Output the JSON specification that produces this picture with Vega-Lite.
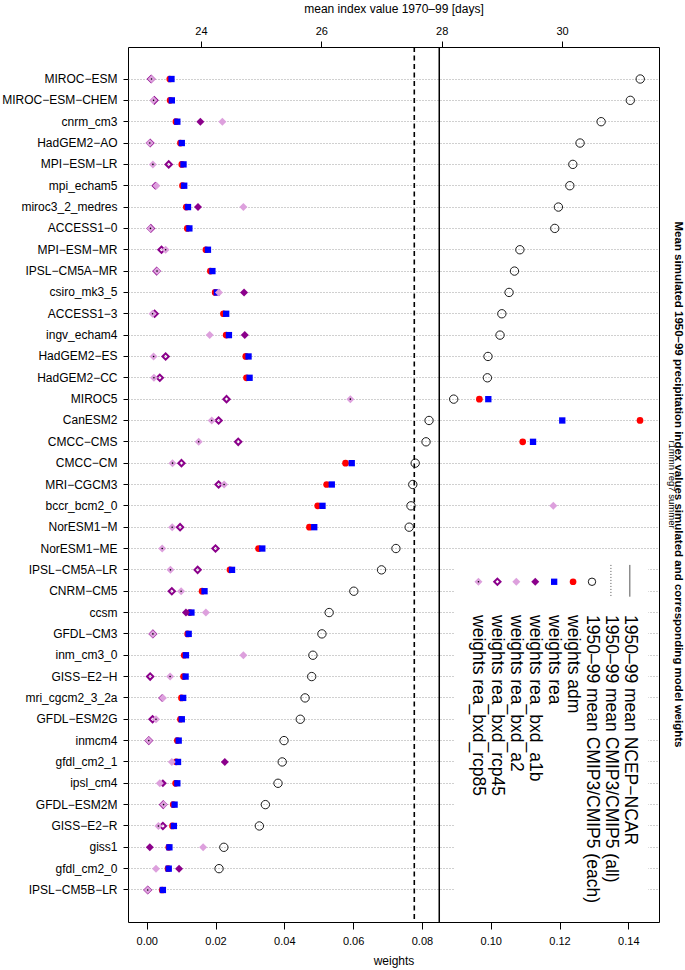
{
  "$schema": "https://vega.github.io/schema/vega-lite/v6.json",
  "width": 531,
  "height": 875,
  "autosize": {"type": "none"},
  "padding": {"left": 128, "top": 47, "right": 26, "bottom": 48},
  "background": "white",
  "config": {
    "view": {"stroke": "#000", "strokeWidth": 1},
    "font": "Liberation Sans",
    "axis": {"labelFont": "Liberation Sans", "titleFont": "Liberation Sans", "labelColor": "#000", "titleColor": "#000", "tickColor": "#000", "titleFontWeight": "normal"}
  },
  "title": {
    "text": "Mean simulated 1950–99 precipitation index values simulated and corresponding model weights",
    "subtitle": "r1mmn reg7 summer",
    "orient": "right",
    "anchor": "middle",
    "font": "Liberation Sans",
    "fontSize": 11.5,
    "fontWeight": "bold",
    "color": "#000",
    "subtitleFont": "Liberation Sans",
    "subtitleFontSize": 9.5,
    "subtitleColor": "#000",
    "offset": 8,
    "subtitlePadding": -4.5
  },
  "datasets": {
    "models": [
      {"r":1,"model":"MIROC-ESM","days":31.30,"adm":0.0067,"rea":0.0072,"rcp45":0.0013,"rcp85":0.0014},
      {"r":2,"model":"MIROC-ESM-CHEM","days":31.135,"adm":0.0068,"rea":0.0073,"rcp45":0.0022,"rcp85":0.0020},
      {"r":3,"model":"cnrm_cm3","days":30.65,"adm":0.0085,"rea":0.0089,"a1b":0.0156,"a2":0.0220},
      {"r":4,"model":"HadGEM2-AO","days":30.30,"adm":0.0098,"rea":0.0102,"rcp45":0.0010,"rcp85":0.0009},
      {"r":5,"model":"MPI-ESM-LR","days":30.18,"adm":0.0102,"rea":0.0107,"rcp45":0.0064,"rcp85":0.0018},
      {"r":6,"model":"mpi_echam5","days":30.13,"adm":0.0104,"rea":0.0109,"a1b":0.0025,"a2":0.0028},
      {"r":7,"model":"miroc3_2_medres","days":29.94,"adm":0.0115,"rea":0.0120,"a1b":0.0149,"a2":0.0281},
      {"r":8,"model":"ACCESS1-0","days":29.88,"adm":0.0118,"rea":0.0124,"rcp45":0.0012,"rcp85":0.0011},
      {"r":9,"model":"MPI-ESM-MR","days":29.30,"adm":0.0172,"rea":0.0178,"rcp45":0.0043,"rcp85":0.0055},
      {"r":10,"model":"IPSL-CM5A-MR","days":29.21,"adm":0.0185,"rea":0.0191,"rcp45":0.0029,"rcp85":0.0030},
      {"r":11,"model":"csiro_mk3_5","days":29.12,"adm":0.0199,"rea":0.0204,"a1b":0.0283,"a2":0.0210},
      {"r":12,"model":"ACCESS1-3","days":29.00,"adm":0.0223,"rea":0.0231,"rcp45":0.0023,"rcp85":0.0017},
      {"r":13,"model":"ingv_echam4","days":28.97,"adm":0.0231,"rea":0.0239,"a1b":0.0285,"a2":0.0183},
      {"r":14,"model":"HadGEM2-ES","days":28.77,"adm":0.0288,"rea":0.0296,"rcp45":0.0055,"rcp85":0.0020},
      {"r":15,"model":"HadGEM2-CC","days":28.76,"adm":0.0290,"rea":0.0299,"rcp45":0.0038,"rcp85":0.0021},
      {"r":16,"model":"MIROC5","days":28.20,"adm":0.0967,"rea":0.0993,"rcp45":0.0232,"rcp85":0.0592},
      {"r":17,"model":"CanESM2","days":27.79,"adm":0.1434,"rea":0.1208,"rcp45":0.0209,"rcp85":0.0189},
      {"r":18,"model":"CMCC-CMS","days":27.74,"adm":0.1093,"rea":0.1123,"rcp45":0.0266,"rcp85":0.0151},
      {"r":19,"model":"CMCC-CM","days":27.56,"adm":0.0578,"rea":0.0596,"rcp45":0.0101,"rcp85":0.0075},
      {"r":20,"model":"MRI-CGCM3","days":27.52,"adm":0.0523,"rea":0.0538,"rcp45":0.0209,"rcp85":0.0225},
      {"r":21,"model":"bccr_bcm2_0","days":27.49,"adm":0.0497,"rea":0.0511,"a2":0.1182},
      {"r":22,"model":"NorESM1-M","days":27.46,"adm":0.0473,"rea":0.0487,"rcp45":0.0097,"rcp85":0.0074},
      {"r":23,"model":"NorESM1-ME","days":27.24,"adm":0.0325,"rea":0.0336,"rcp45":0.0200,"rcp85":0.0045},
      {"r":24,"model":"IPSL-CM5A-LR","days":27.00,"adm":0.0242,"rea":0.0248,"rcp45":0.0148,"rcp85":0.0069},
      {"r":25,"model":"CNRM-CM5","days":26.54,"adm":0.0161,"rea":0.0168,"rcp45":0.0073,"rcp85":0.0100},
      {"r":26,"model":"ccsm","days":26.13,"adm":0.0125,"rea":0.0130,"a1b":0.0114,"a2":0.0172},
      {"r":27,"model":"GFDL-CM3","days":26.01,"adm":0.0119,"rea":0.0122,"rcp45":0.0018,"rcp85":0.0018},
      {"r":28,"model":"inm_cm3_0","days":25.86,"adm":0.0109,"rea":0.0114,"a2":0.0281},
      {"r":29,"model":"GISS-E2-H","days":25.84,"adm":0.0107,"rea":0.0113,"rcp45":0.0010,"rcp85":0.0068},
      {"r":30,"model":"mri_cgcm2_3_2a","days":25.73,"adm":0.0101,"rea":0.0106,"a1b":0.0045,"a2":0.0047},
      {"r":31,"model":"GFDL-ESM2G","days":25.65,"adm":0.0098,"rea":0.0102,"rcp45":0.0017,"rcp85":0.0027},
      {"r":32,"model":"inmcm4","days":25.38,"adm":0.0089,"rea":0.0093,"rcp45":0.0006,"rcp85":0.0006},
      {"r":33,"model":"gfdl_cm2_1","days":25.35,"adm":0.0086,"rea":0.0091,"a1b":0.0227,"a2":0.0073},
      {"r":34,"model":"ipsl_cm4","days":25.28,"adm":0.0084,"rea":0.0089,"a1b":0.0047,"a2":0.0038},
      {"r":35,"model":"GFDL-ESM2M","days":25.07,"adm":0.0077,"rea":0.0081,"rcp45":0.0048,"rcp85":0.0049},
      {"r":36,"model":"GISS-E2-R","days":24.97,"adm":0.0075,"rea":0.0079,"rcp45":0.0047,"rcp85":0.0034},
      {"r":37,"model":"giss1","days":24.38,"adm":0.0064,"rea":0.0066,"a1b":0.0009,"a2":0.0164},
      {"r":38,"model":"gfdl_cm2_0","days":24.30,"adm":0.0062,"rea":0.0064,"a1b":0.0094,"a2":0.0027},
      {"r":39,"model":"IPSL-CM5B-LR","adm":0.0045,"rea":0.0047,"rcp45":0.0003,"rcp85":0.0003}
    ],
    "means": [
      {"name":"1950–99 mean CMIP3/CMIP5 (all)","value":27.545},
      {"name":"1950–99 mean NCEP−NCAR","value":27.96}
    ],
    "legend": [
      {"entry":"weights rea_bxd_rcp85"},
      {"entry":"weights rea_bxd_rcp45"},
      {"entry":"weights rea_bxd_a2"},
      {"entry":"weights rea_bxd_a1b"},
      {"entry":"weights rea"},
      {"entry":"weights adm"},
      {"entry":"1950–99 mean CMIP3/CMIP5 (each)"},
      {"entry":"1950–99 mean CMIP3/CMIP5 (all)"},
      {"entry":"1950–99 mean NCEP−NCAR"}
    ]
  },
  "resolve": {"scale": {"x": "independent", "y": "independent"}},
  "layer": [
    {
      "data": {"name": "models"},
      "mark": {"type": "point", "shape": "circle", "filled": false, "size": 70, "stroke": "#1a1a1a", "strokeWidth": 1, "opacity": 1},
      "encoding": {
        "x": {"field": "days", "type": "quantitative",
          "scale": {"domain": [22.787, 31.612], "nice": false, "zero": false},
          "axis": {"orient": "top", "values": [24, 26, 28, 30], "title": "mean index value 1970–99 [days]", "titleFontSize": 12, "labelFontSize": 11, "tickSize": 6, "labelPadding": 5, "titlePadding": 10, "grid": false, "domain": false}},
        "y": {"field": "model", "type": "nominal",
          "scale": {"type": "band", "paddingInner": 0, "paddingOuter": 1, "domain": ["MIROC-ESM","MIROC-ESM-CHEM","cnrm_cm3","HadGEM2-AO","MPI-ESM-LR","mpi_echam5","miroc3_2_medres","ACCESS1-0","MPI-ESM-MR","IPSL-CM5A-MR","csiro_mk3_5","ACCESS1-3","ingv_echam4","HadGEM2-ES","HadGEM2-CC","MIROC5","CanESM2","CMCC-CMS","CMCC-CM","MRI-CGCM3","bccr_bcm2_0","NorESM1-M","NorESM1-ME","IPSL-CM5A-LR","CNRM-CM5","ccsm","GFDL-CM3","inm_cm3_0","GISS-E2-H","mri_cgcm2_3_2a","GFDL-ESM2G","inmcm4","gfdl_cm2_1","ipsl_cm4","GFDL-ESM2M","GISS-E2-R","giss1","gfdl_cm2_0","IPSL-CM5B-LR"]},
          "axis": {"title": null, "grid": true, "gridDash": [1, 2], "gridColor": "#a0a0a0", "gridWidth": 1, "bandPosition": 0.5,
            "labelExpr": "replace(datum.label, /-/g, '−')",
            "domain": false, "tickSize": 5, "labelPadding": 6, "labelFontSize": 12, "labelOverlap": false}}
      }
    },
    {
      "data": {"name": "means"},
      "transform": [{"filter": "datum.name == '1950–99 mean CMIP3/CMIP5 (all)'"}],
      "mark": {"type": "rule", "color": "#000", "strokeWidth": 1.6, "strokeDash": [5, 3.5]},
      "encoding": {
        "x": {"field": "value", "type": "quantitative", "scale": {"domain": [22.787, 31.612], "nice": false, "zero": false}, "axis": null},
        "y": {"datum": -0.5, "type": "quantitative", "scale": {"domain": [-0.5, 40.52], "reverse": true, "nice": false, "zero": false}, "axis": null},
        "y2": {"datum": 40.52}
      }
    },
    {
      "data": {"name": "means"},
      "transform": [{"filter": "datum.name == '1950–99 mean NCEP−NCAR'"}],
      "mark": {"type": "rule", "color": "#000", "strokeWidth": 1.5},
      "encoding": {
        "x": {"field": "value", "type": "quantitative", "scale": {"domain": [22.787, 31.612], "nice": false, "zero": false}, "axis": null},
        "y": {"datum": -0.5, "type": "quantitative", "scale": {"domain": [-0.5, 40.52], "reverse": true, "nice": false, "zero": false}, "axis": null},
        "y2": {"datum": 40.52}
      }
    },
    {
      "data": {"values": [{}]},
      "mark": {"type": "rect", "fill": "white"},
      "encoding": {
        "x": {"datum": 0.0894, "type": "quantitative", "scale": {"domain": [-0.00544, 0.14892], "nice": false, "zero": false}, "axis": null},
        "x2": {"datum": 0.1458},
        "y": {"datum": 23.55, "type": "quantitative", "scale": {"domain": [-0.5, 40.52], "reverse": true, "nice": false, "zero": false}, "axis": null},
        "y2": {"datum": 39.96}
      }
    },
    {
      "data": {"name": "models"},
      "mark": {"type": "point", "shape": "circle", "filled": true, "color": "#ff0000", "size": 45, "opacity": 1},
      "encoding": {
        "x": {"field": "adm", "type": "quantitative", "scale": {"domain": [-0.00544, 0.14892], "nice": false, "zero": false},
          "axis": {"orient": "bottom", "values": [0, 0.02, 0.04, 0.06, 0.08, 0.1, 0.12, 0.14], "format": ".2f", "title": "weights", "titleFontSize": 12, "labelFontSize": 11, "tickSize": 7, "labelPadding": 6, "titlePadding": 9, "grid": false, "domain": false}},
        "y": {"field": "model", "type": "nominal", "scale": {"type": "band", "paddingInner": 0, "paddingOuter": 1, "domain": ["MIROC-ESM","MIROC-ESM-CHEM","cnrm_cm3","HadGEM2-AO","MPI-ESM-LR","mpi_echam5","miroc3_2_medres","ACCESS1-0","MPI-ESM-MR","IPSL-CM5A-MR","csiro_mk3_5","ACCESS1-3","ingv_echam4","HadGEM2-ES","HadGEM2-CC","MIROC5","CanESM2","CMCC-CMS","CMCC-CM","MRI-CGCM3","bccr_bcm2_0","NorESM1-M","NorESM1-ME","IPSL-CM5A-LR","CNRM-CM5","ccsm","GFDL-CM3","inm_cm3_0","GISS-E2-H","mri_cgcm2_3_2a","GFDL-ESM2G","inmcm4","gfdl_cm2_1","ipsl_cm4","GFDL-ESM2M","GISS-E2-R","giss1","gfdl_cm2_0","IPSL-CM5B-LR"]}, "axis": null}
      }
    },
    {
      "data": {"name": "models"},
      "mark": {"type": "point", "shape": "square", "filled": true, "color": "#0000ff", "size": 40, "opacity": 1},
      "encoding": {
        "x": {"field": "rea", "type": "quantitative", "scale": {"domain": [-0.00544, 0.14892], "nice": false, "zero": false}, "axis": null},
        "y": {"field": "model", "type": "nominal", "scale": {"type": "band", "paddingInner": 0, "paddingOuter": 1, "domain": ["MIROC-ESM","MIROC-ESM-CHEM","cnrm_cm3","HadGEM2-AO","MPI-ESM-LR","mpi_echam5","miroc3_2_medres","ACCESS1-0","MPI-ESM-MR","IPSL-CM5A-MR","csiro_mk3_5","ACCESS1-3","ingv_echam4","HadGEM2-ES","HadGEM2-CC","MIROC5","CanESM2","CMCC-CMS","CMCC-CM","MRI-CGCM3","bccr_bcm2_0","NorESM1-M","NorESM1-ME","IPSL-CM5A-LR","CNRM-CM5","ccsm","GFDL-CM3","inm_cm3_0","GISS-E2-H","mri_cgcm2_3_2a","GFDL-ESM2G","inmcm4","gfdl_cm2_1","ipsl_cm4","GFDL-ESM2M","GISS-E2-R","giss1","gfdl_cm2_0","IPSL-CM5B-LR"]}, "axis": null}
      }
    },
    {
      "data": {"name": "models"},
      "mark": {"type": "point", "shape": "diamond", "filled": true, "color": "#8b008b", "size": 64, "opacity": 1},
      "encoding": {
        "x": {"field": "a1b", "type": "quantitative", "scale": {"domain": [-0.00544, 0.14892], "nice": false, "zero": false}, "axis": null},
        "y": {"field": "model", "type": "nominal", "scale": {"type": "band", "paddingInner": 0, "paddingOuter": 1, "domain": ["MIROC-ESM","MIROC-ESM-CHEM","cnrm_cm3","HadGEM2-AO","MPI-ESM-LR","mpi_echam5","miroc3_2_medres","ACCESS1-0","MPI-ESM-MR","IPSL-CM5A-MR","csiro_mk3_5","ACCESS1-3","ingv_echam4","HadGEM2-ES","HadGEM2-CC","MIROC5","CanESM2","CMCC-CMS","CMCC-CM","MRI-CGCM3","bccr_bcm2_0","NorESM1-M","NorESM1-ME","IPSL-CM5A-LR","CNRM-CM5","ccsm","GFDL-CM3","inm_cm3_0","GISS-E2-H","mri_cgcm2_3_2a","GFDL-ESM2G","inmcm4","gfdl_cm2_1","ipsl_cm4","GFDL-ESM2M","GISS-E2-R","giss1","gfdl_cm2_0","IPSL-CM5B-LR"]}, "axis": null}
      }
    },
    {
      "data": {"name": "models"},
      "mark": {"type": "point", "shape": "diamond", "filled": true, "color": "#dda0dd", "size": 64, "opacity": 1},
      "encoding": {
        "x": {"field": "a2", "type": "quantitative", "scale": {"domain": [-0.00544, 0.14892], "nice": false, "zero": false}, "axis": null},
        "y": {"field": "model", "type": "nominal", "scale": {"type": "band", "paddingInner": 0, "paddingOuter": 1, "domain": ["MIROC-ESM","MIROC-ESM-CHEM","cnrm_cm3","HadGEM2-AO","MPI-ESM-LR","mpi_echam5","miroc3_2_medres","ACCESS1-0","MPI-ESM-MR","IPSL-CM5A-MR","csiro_mk3_5","ACCESS1-3","ingv_echam4","HadGEM2-ES","HadGEM2-CC","MIROC5","CanESM2","CMCC-CMS","CMCC-CM","MRI-CGCM3","bccr_bcm2_0","NorESM1-M","NorESM1-ME","IPSL-CM5A-LR","CNRM-CM5","ccsm","GFDL-CM3","inm_cm3_0","GISS-E2-H","mri_cgcm2_3_2a","GFDL-ESM2G","inmcm4","gfdl_cm2_1","ipsl_cm4","GFDL-ESM2M","GISS-E2-R","giss1","gfdl_cm2_0","IPSL-CM5B-LR"]}, "axis": null}
      }
    },
    {
      "data": {"name": "models"},
      "mark": {"type": "point", "shape": "diamond", "filled": false, "stroke": "#8b008b", "strokeWidth": 2, "size": 40, "opacity": 1},
      "encoding": {
        "x": {"field": "rcp45", "type": "quantitative", "scale": {"domain": [-0.00544, 0.14892], "nice": false, "zero": false}, "axis": null},
        "y": {"field": "model", "type": "nominal", "scale": {"type": "band", "paddingInner": 0, "paddingOuter": 1, "domain": ["MIROC-ESM","MIROC-ESM-CHEM","cnrm_cm3","HadGEM2-AO","MPI-ESM-LR","mpi_echam5","miroc3_2_medres","ACCESS1-0","MPI-ESM-MR","IPSL-CM5A-MR","csiro_mk3_5","ACCESS1-3","ingv_echam4","HadGEM2-ES","HadGEM2-CC","MIROC5","CanESM2","CMCC-CMS","CMCC-CM","MRI-CGCM3","bccr_bcm2_0","NorESM1-M","NorESM1-ME","IPSL-CM5A-LR","CNRM-CM5","ccsm","GFDL-CM3","inm_cm3_0","GISS-E2-H","mri_cgcm2_3_2a","GFDL-ESM2G","inmcm4","gfdl_cm2_1","ipsl_cm4","GFDL-ESM2M","GISS-E2-R","giss1","gfdl_cm2_0","IPSL-CM5B-LR"]}, "axis": null}
      }
    },
    {
      "data": {"name": "models"},
      "mark": {"type": "point", "shape": "diamond", "filled": true, "color": "#dda0dd", "size": 64, "opacity": 1},
      "encoding": {
        "x": {"field": "rcp85", "type": "quantitative", "scale": {"domain": [-0.00544, 0.14892], "nice": false, "zero": false}, "axis": null},
        "y": {"field": "model", "type": "nominal", "scale": {"type": "band", "paddingInner": 0, "paddingOuter": 1, "domain": ["MIROC-ESM","MIROC-ESM-CHEM","cnrm_cm3","HadGEM2-AO","MPI-ESM-LR","mpi_echam5","miroc3_2_medres","ACCESS1-0","MPI-ESM-MR","IPSL-CM5A-MR","csiro_mk3_5","ACCESS1-3","ingv_echam4","HadGEM2-ES","HadGEM2-CC","MIROC5","CanESM2","CMCC-CMS","CMCC-CM","MRI-CGCM3","bccr_bcm2_0","NorESM1-M","NorESM1-ME","IPSL-CM5A-LR","CNRM-CM5","ccsm","GFDL-CM3","inm_cm3_0","GISS-E2-H","mri_cgcm2_3_2a","GFDL-ESM2G","inmcm4","gfdl_cm2_1","ipsl_cm4","GFDL-ESM2M","GISS-E2-R","giss1","gfdl_cm2_0","IPSL-CM5B-LR"]}, "axis": null}
      }
    },
    {
      "data": {"name": "models"},
      "mark": {"type": "point", "shape": "circle", "filled": true, "color": "#000", "size": 2.5, "opacity": 1},
      "encoding": {
        "x": {"field": "rcp85", "type": "quantitative", "scale": {"domain": [-0.00544, 0.14892], "nice": false, "zero": false}, "axis": null},
        "y": {"field": "model", "type": "nominal", "scale": {"type": "band", "paddingInner": 0, "paddingOuter": 1, "domain": ["MIROC-ESM","MIROC-ESM-CHEM","cnrm_cm3","HadGEM2-AO","MPI-ESM-LR","mpi_echam5","miroc3_2_medres","ACCESS1-0","MPI-ESM-MR","IPSL-CM5A-MR","csiro_mk3_5","ACCESS1-3","ingv_echam4","HadGEM2-ES","HadGEM2-CC","MIROC5","CanESM2","CMCC-CMS","CMCC-CM","MRI-CGCM3","bccr_bcm2_0","NorESM1-M","NorESM1-ME","IPSL-CM5A-LR","CNRM-CM5","ccsm","GFDL-CM3","inm_cm3_0","GISS-E2-H","mri_cgcm2_3_2a","GFDL-ESM2G","inmcm4","gfdl_cm2_1","ipsl_cm4","GFDL-ESM2M","GISS-E2-R","giss1","gfdl_cm2_0","IPSL-CM5B-LR"]}, "axis": null}
      }
    },
    {
      "data": {"name": "legend"},
      "encoding": {
        "x": {"field": "entry", "type": "nominal",
          "scale": {"type": "point", "domain": ["weights rea_bxd_rcp85", "weights rea_bxd_rcp45", "weights rea_bxd_a2", "weights rea_bxd_a1b", "weights rea", "weights adm", "1950–99 mean CMIP3/CMIP5 (each)", "1950–99 mean CMIP3/CMIP5 (all)", "1950–99 mean NCEP−NCAR"], "range": [341, 511.3]},
          "axis": null},
        "y": {"datum": 24.57, "type": "quantitative", "scale": {"domain": [-0.5, 40.52], "reverse": true, "nice": false, "zero": false}, "axis": null}
      },
      "layer": [
        {"transform": [{"filter": "datum.entry == 'weights rea_bxd_rcp85'"}], "mark": {"type": "point", "shape": "diamond", "filled": true, "color": "#dda0dd", "size": 64, "opacity": 1}},
        {"transform": [{"filter": "datum.entry == 'weights rea_bxd_rcp85'"}], "mark": {"type": "point", "shape": "circle", "filled": true, "color": "#000", "size": 2.5, "opacity": 1}},
        {"transform": [{"filter": "datum.entry == 'weights rea_bxd_rcp45'"}], "mark": {"type": "point", "shape": "diamond", "filled": false, "stroke": "#8b008b", "strokeWidth": 2, "size": 40, "opacity": 1}},
        {"transform": [{"filter": "datum.entry == 'weights rea_bxd_a2'"}], "mark": {"type": "point", "shape": "diamond", "filled": true, "color": "#dda0dd", "size": 64, "opacity": 1}},
        {"transform": [{"filter": "datum.entry == 'weights rea_bxd_a1b'"}], "mark": {"type": "point", "shape": "diamond", "filled": true, "color": "#8b008b", "size": 64, "opacity": 1}},
        {"transform": [{"filter": "datum.entry == 'weights rea'"}], "mark": {"type": "point", "shape": "square", "filled": true, "color": "#0000ff", "size": 40, "opacity": 1}},
        {"transform": [{"filter": "datum.entry == 'weights adm'"}], "mark": {"type": "point", "shape": "circle", "filled": true, "color": "#ff0000", "size": 45, "opacity": 1}},
        {"transform": [{"filter": "datum.entry == '1950–99 mean CMIP3/CMIP5 (each)'"}], "mark": {"type": "point", "shape": "circle", "filled": false, "stroke": "#1a1a1a", "strokeWidth": 1, "size": 55, "opacity": 1}},
        {"transform": [{"filter": "datum.entry == '1950–99 mean CMIP3/CMIP5 (all)'"}], "mark": {"type": "rule", "color": "#555", "strokeWidth": 1, "strokeDash": [1, 2]},
          "encoding": {"y": {"datum": 23.78, "type": "quantitative", "axis": null}, "y2": {"datum": 25.27}}},
        {"transform": [{"filter": "datum.entry == '1950–99 mean NCEP−NCAR'"}], "mark": {"type": "rule", "color": "#555", "strokeWidth": 1},
          "encoding": {"y": {"datum": 23.78, "type": "quantitative", "axis": null}, "y2": {"datum": 25.27}}},
        {"mark": {"type": "text", "angle": 90, "align": "left", "baseline": "middle", "font": "Liberation Sans", "fontSize": 17.5, "color": "#000"},
          "encoding": {"text": {"field": "entry"}, "y": {"datum": 26.13, "type": "quantitative", "axis": null}}}
      ]
    }
  ]
}
